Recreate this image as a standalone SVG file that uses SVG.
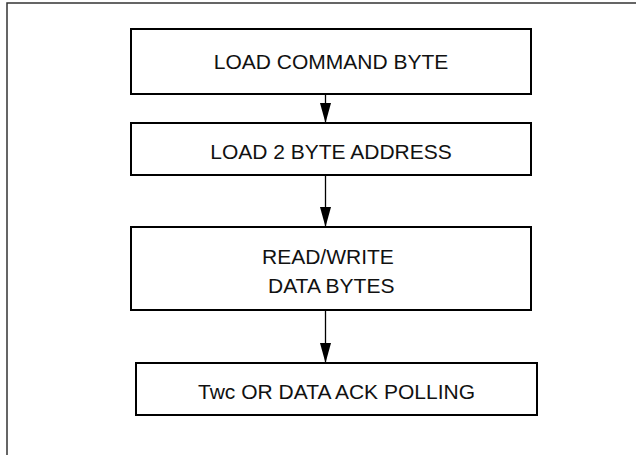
<svg xmlns="http://www.w3.org/2000/svg" width="636" height="455" viewBox="0 0 636 455">
<style>
.box{fill:#fff;stroke:#000;stroke-width:2}
.lbl{font-family:"Liberation Sans",Arial,sans-serif;font-size:21px;fill:#111}
.mid{text-anchor:middle}
.conn{stroke:#000;stroke-width:1.3;fill:none}
</style>
<defs>
<marker id="ah" markerUnits="userSpaceOnUse" markerWidth="20" markerHeight="11" refX="20" refY="5.5" orient="auto" viewBox="0 0 20 11">
<path d="M0,0 L20,5.5 L0,11 Z" fill="#000"/>
</marker>
</defs>
<rect x="7" y="3" width="700" height="600" fill="none" stroke="#333" stroke-width="1.5"/>
<g id="connectors">
<line class="conn" x1="325.5" y1="94" x2="325.5" y2="123" marker-end="url(#ah)"/>
<line class="conn" x1="325.5" y1="175" x2="325.5" y2="227" marker-end="url(#ah)"/>
<line class="conn" x1="325.5" y1="310" x2="325.5" y2="363" marker-end="url(#ah)"/>
</g>
<g id="node1">
<rect class="box" x="131" y="29" width="400" height="65"/>
<text class="lbl mid" x="331" y="69">LOAD COMMAND BYTE</text>
</g>
<g id="node2">
<rect class="box" x="131" y="123" width="400" height="52"/>
<text class="lbl mid" x="331" y="159">LOAD 2 BYTE ADDRESS</text>
</g>
<g id="node3">
<rect class="box" x="131" y="227" width="400" height="83"/>
<text class="lbl" x="262" y="264">READ/WRITE</text>
<text class="lbl" x="268" y="293">DATA BYTES</text>
</g>
<g id="node4">
<rect class="box" x="136" y="363" width="401" height="52"/>
<text class="lbl mid" x="336.5" y="399">Twc OR DATA ACK POLLING</text>
</g>
</svg>
